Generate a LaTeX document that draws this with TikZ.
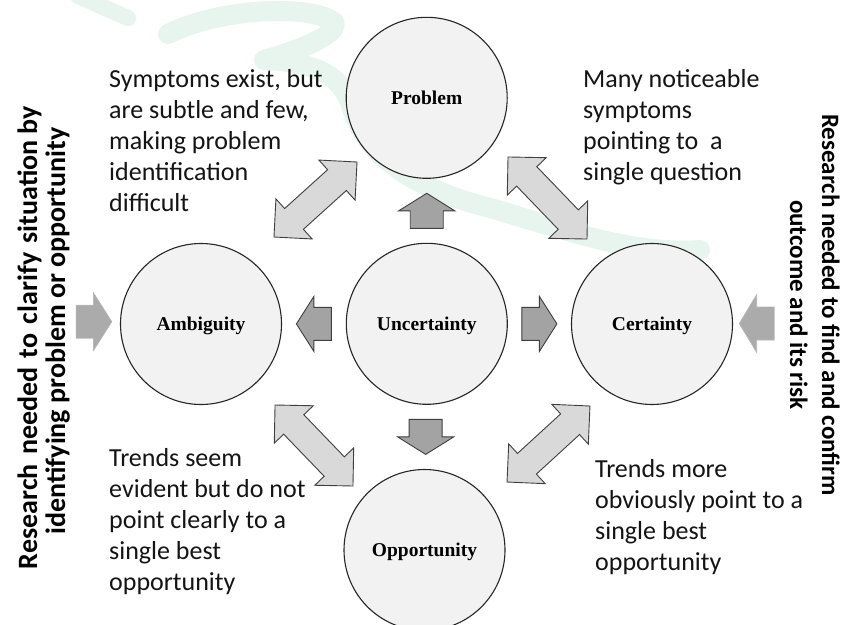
\documentclass[tikz,border=0pt]{standalone}
\usepackage{fontspec}
\setmainfont{Carlito}
\newfontfamily\timesfont{Liberation Serif}
\usetikzlibrary{calc}
\definecolor{cfill}{HTML}{F2F2F2}
\definecolor{cline}{HTML}{262626}
\definecolor{darkfill}{HTML}{A3A3A3}
\definecolor{lightfill}{HTML}{D9D9D9}
\definecolor{aline}{HTML}{3F3F3F}
\definecolor{infill}{HTML}{ABABAB}
\definecolor{wmc}{HTML}{E7F5EE}
\definecolor{txtc}{HTML}{141414}
\begin{document}
\begin{tikzpicture}[x=1pt,y=-1pt,
  circ/.style={circle, draw=cline, fill=cfill, line width=1.1pt, minimum size=161pt, inner sep=0pt,
    font=\timesfont\bfseries\fontsize{19.5}{20}\selectfont, text height=12.9pt, text depth=0pt},
  body/.style={font=\fontsize{26}{31.1}\selectfont, align=left, anchor=north west, inner sep=0pt, text=txtc},
  sidel/.style={font=\bfseries\fontsize{28}{28}\selectfont, inner sep=0pt, anchor=base, rotate=90},
  sider/.style={font=\bfseries\fontsize{25}{28}\selectfont, inner sep=0pt, anchor=base, rotate=-90},
  darr/.style={fill=darkfill, draw=aline, line width=0.9pt, line join=miter},
  larr/.style={fill=lightfill, draw=aline, line width=0.9pt, line join=miter},
  inarr/.style={fill=infill, draw=infill!85!white, line width=0.6pt},
  wm/.style={draw=wmc, line width=20pt, line cap=round, line join=round},
  pics/barrow/.style n args={5}{code={%
    \draw[#5] (-#1/2,-#4/2) -- (#1/2-#2,-#4/2) -- (#1/2-#2,-#3/2) -- (#1/2,0)
      -- (#1/2-#2,#3/2) -- (#1/2-#2,#4/2) -- (-#1/2,#4/2) -- cycle;}},
  pics/dblarrow/.style={code={%
    \draw[larr] (-#1/2,0) -- (-#1/2+27,27) -- (-#1/2+27,14) -- (#1/2-27,14) -- (#1/2-27,27)
      -- (#1/2,0) -- (#1/2-27,-27) -- (#1/2-27,-14) -- (-#1/2+27,-14) -- (-#1/2+27,-27) -- cycle;}}
]
\useasboundingbox (0,0) rectangle (842,624);
\fill[white] (0,0) rectangle (842,624);
\clip (0,0) rectangle (842,624);

% watermark
\draw[wm, line width=16pt] (78,-4) -- (128,18);
\draw[wm] (168,34) .. controls (220,8) and (310,4) .. (334,22)
  .. controls (340,34) and (300,50) .. (264,60)
  .. controls (310,62) and (338,72) .. (350,102)
  .. controls (365,160) and (420,190) .. (490,208)
  .. controls (560,228) and (630,255) .. (700,250);

% circles
\node[circ] (prob) at (426.7,97.8) {Problem};
\node[circ] (amb)  at (201,324) {Ambiguity};
\node[circ] (unc)  at (426.8,323.8) {Uncertainty};
\node[circ] (cert) at (652,324) {Certainty};
\node[circ] (opp)  at (424.5,550) {Opportunity};

% single block arrows from the centre
\pic[rotate=90]  at ($(unc)!0.5!(prob)$) {barrow={35}{17.5}{56}{33}{darr}};
\pic[rotate=-90] at ($(unc)!0.5!(opp)$)  {barrow={35}{17.5}{56}{33}{darr}};
\pic[rotate=180] at ($(unc)!0.5!(amb)$)  {barrow={35}{17.5}{55}{33}{darr}};
\pic[rotate=0]   at ($(unc)!0.5!(cert)$) {barrow={35}{17.5}{55}{33}{darr}};

% double arrows
\coordinate (dUL) at (315.5,199.5);
\coordinate (dUR) at (547.5,198);
\coordinate (dLL) at (314,445.5);
\coordinate (dLR) at (548.5,444);
\pic[rotate=42.1]  at (dUL) {dblarrow=111.9};
\pic[rotate=-46.1] at (dUR) {dblarrow=113.9};
\pic[rotate=-46.1] at (dLL) {dblarrow=112.4};
\pic[rotate=42.5]  at (dLR) {dblarrow=112.5};

% input arrows
\coordinate (inL) at (94,321.7);
\coordinate (inR) at (756.7,323.5);
\pic[rotate=0]   at (inL) {barrow={35.7}{18.4}{58}{33}{inarr}};
\pic[rotate=180] at (inR) {barrow={35}{17.5}{58}{33}{inarr}};

% text blocks
\node[body] (tl) at (109,67.3) {\rule{0pt}{20pt}Symptoms exist, but\\are subtle and few,\\making problem\\identification\\difficult};
\node[body] (tr) at (583,67.3) {\rule{0pt}{20pt}Many noticeable\\symptoms\\pointing to\ \ a\\single question};
\node[body] (bl) at (109,446) {\rule{0pt}{20pt}Trends seem\\evident but do not\\point clearly to a\\single best\\opportunity};
\node[body] (br) at (595,457) {\rule{0pt}{20pt}Trends more\\obviously point to a\\single best\\opportunity};

% side texts
\node[sidel] (l1) at (37,337.5) {\makebox[463pt][s]{Research\hspace{0pt plus 1fil} needed\hspace{0pt plus 1fil} to\hspace{0pt plus 1fil} clarify\hspace{0pt plus 1fil} situation by}};
\node[sidel] (l2) at (65,331) {identifying problem or opportunity};
\node[sider] (r1) at (822,305) {Research needed to find and confirm};
\node[sider] (r2) at (790,305) {outcome and its risk};
\end{tikzpicture}
\end{document}
